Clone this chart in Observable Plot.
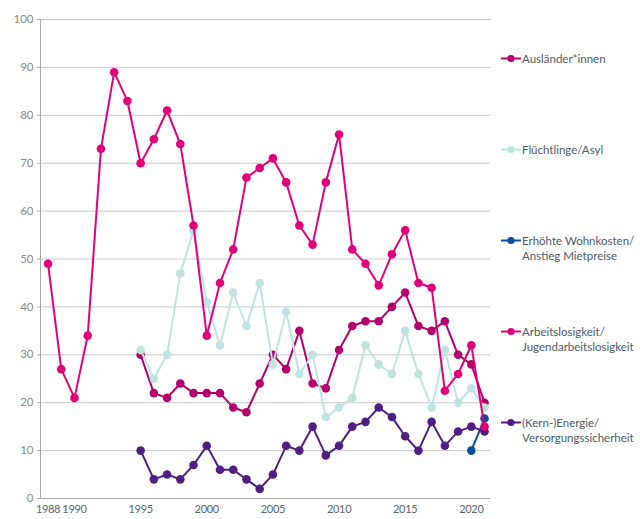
<!DOCTYPE html>
<html>
<head>
<meta charset="utf-8">
<script src="https://cdn.jsdelivr.net/npm/d3@7"></script>
<script src="https://cdn.jsdelivr.net/npm/@observablehq/plot@0.6"></script>
<style>
  html, body { margin: 0; padding: 0; background: #fff; }
  #wrap { position: relative; width: 640px; height: 519px; font-family: Lato, "Noto Sans", sans-serif; }
  .leg { position: absolute; left: 500px; display: flex; align-items: flex-start; font-size: 11.5px; line-height: 15px; color: #4d5866; }
  .leg svg { flex: none; margin-top: 0px; }
  .xax text { letter-spacing: -0.3px; }
</style>
</head>
<body>
<div id="wrap"></div>
<script>
// ---- data ----
const yearsLong = [1988,1989,1990,1991,1992,1993,1994,1995,1996,1997,1998,1999,2000,2001,2002,2003,2004,2005,2006,2007,2008,2009,2010,2011,2012,2013,2014,2015,2016,2017,2018,2019,2020,2021];
const yearsShort = [1995,1996,1997,1998,1999,2000,2001,2002,2003,2004,2005,2006,2007,2008,2009,2010,2011,2012,2013,2014,2015,2016,2017,2018,2019,2020,2021];
const yearsWohn = [2020, 2021];

const arbeitslosigkeit = [49,27,21,34,73,89,83,70,75,81,74,57,34,45,52,67,69,71,66,57,53,66,76,52,49,44.5,51,56,45,44,22.5,26,32,15];
const auslaender = [30,22,21,24,22,22,22,19,18,24,30,27,35,24,23,31,36,37,37,40,43,36,35,37,30,28,20];
const fluechtlinge = [31,25,30,47,56,41,32,43,36,45,28,39,26,30,17,19,21,32,28,26,35,26,19,31,20,23,19];
const energie = [10,4,5,4,7,11,6,6,4,2,5,11,10,15,9,11,15,16,19,17,13,10,16,11,14,15,14];
const wohnkosten = [10,16.7];

const xTicks = [1988,1990,1995,2000,2005,2010,2015,2020];
const yTicks = [0,10,20,30,40,50,60,70,80,90,100];

const seriesNames = ["Ausländer*innen", "Flüchtlinge/Asyl", "Erhöhte Wohnkosten/\nAnstieg Mietpreise", "Arbeitslosigkeit/\nJugendarbeitslosigkeit", "(Kern-)Energie/\nVersorgungssicherheit"];
const seriesColors = ["#b3006e", "#bfe3e1", "#0b4e96", "#e2007a", "#4f1f80"];

// ---- build table ----
function rows(years, vals, s) { return years.map((y, i) => ({year: y, value: vals[i], series: s})); }
const dAus = rows(yearsShort, auslaender, 0);
const dFl = rows(yearsShort, fluechtlinge, 1);
const dWo = rows(yearsWohn, wohnkosten, 2);
const dAr = rows(yearsLong, arbeitslosigkeit, 3);
const dEn = rows(yearsShort, energie, 4);
const drawOrder = [dAus, dFl, dWo, dEn, dAr];

const xDomain = [1987.43, 2021.45];

const marks = [
  Plot.gridY(yTicks, {stroke: "#c9c9c9", strokeOpacity: 1}),
  Plot.ruleY([0], {stroke: "#a8a8a8"}),
  Plot.ruleX([xDomain[0]], {stroke: "#a8a8a8"}),
  Plot.axisY(yTicks, {tickSize: 3, tickPadding: 4, stroke: "#a8a8a8", fill: "#8a8a8a", fontSize: 11.5}),
  Plot.axisX(xTicks, {tickSize: 0, tickPadding: 7, fill: "#5a6470", fontSize: 11, className: "xax", tickFormat: d => String(d)})
];
for (const d of drawOrder) {
  const c = seriesColors[d[0].series];
  marks.push(Plot.line(d, {x: "year", y: "value", stroke: c, strokeWidth: 2}));
  marks.push(Plot.dot(d, {x: "year", y: "value", fill: c, r: 4.3}));
}

const chart = Plot.plot({
  width: 640,
  height: 519,
  marginLeft: 40,
  marginRight: 150,
  marginTop: 19,
  marginBottom: 21,
  style: {fontFamily: "Lato, 'Noto Sans', sans-serif", background: "#fff"},
  x: {domain: xDomain, label: null},
  y: {domain: [0, 100], label: null},
  marks
});
const wrap = document.getElementById("wrap");
wrap.appendChild(chart);

// ---- legend ----
seriesNames.forEach((name, i) => {
  const div = document.createElement("div");
  div.className = "leg";
  div.style.top = (51 + i * 91) + "px";
  const c = seriesColors[i];
  div.innerHTML = `<svg width="22" height="15"><line x1="1" x2="21" y1="7.5" y2="7.5" stroke="${c}" stroke-width="2"/><circle cx="11" cy="7.5" r="3.6" fill="${c}"/></svg><span>${name.replace("\n", "<br>")}</span>`;
  wrap.appendChild(div);
});
</script>
</body>
</html>
